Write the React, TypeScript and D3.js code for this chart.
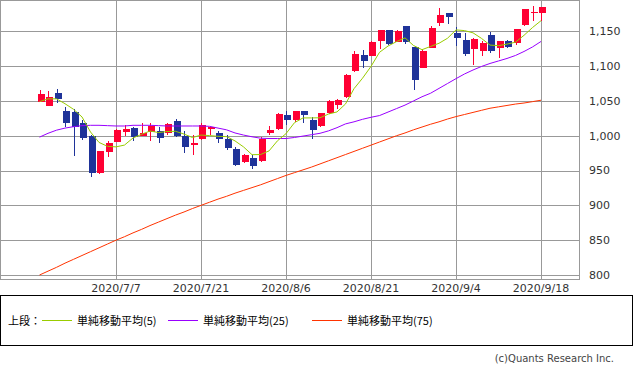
import React from "react";
import * as d3 from "d3";

const dates = [
  "2020/6/24","2020/6/25","2020/6/26","2020/6/29","2020/6/30",
  "2020/7/1","2020/7/2","2020/7/3","2020/7/6","2020/7/7",
  "2020/7/8","2020/7/9","2020/7/10","2020/7/13","2020/7/14",
  "2020/7/15","2020/7/16","2020/7/17","2020/7/20","2020/7/21",
  "2020/7/22","2020/7/27","2020/7/28","2020/7/29","2020/7/30",
  "2020/7/31","2020/8/3","2020/8/4","2020/8/5","2020/8/6",
  "2020/8/7","2020/8/11","2020/8/12","2020/8/13","2020/8/14",
  "2020/8/17","2020/8/18","2020/8/19","2020/8/20","2020/8/21",
  "2020/8/24","2020/8/25","2020/8/26","2020/8/27","2020/8/28",
  "2020/8/31","2020/9/1","2020/9/2","2020/9/3","2020/9/4",
  "2020/9/7","2020/9/8","2020/9/9","2020/9/10","2020/9/11",
  "2020/9/14","2020/9/15","2020/9/16","2020/9/17","2020/9/18",
];

const opens = [1049,1043,1062,1036,1034,1019,1000,947,977,991,1005,1011,1000,1005,1007,1004,1021,1000,987,995,1010,1004,995,981,963,968,964,1004,1010,1030,1023,1036,1023,1014,1032,1044,1055,1093,1116,1115,1136,1152,1135,1158,1128,1098,1126,1162,1176,1148,1137,1124,1121,1145,1126,1136,1133,1159,1176,1177];
const highs = [1066,1064,1067,1041,1038,1022,1001,978,992,1010,1015,1013,1019,1018,1013,1019,1024,1007,1001,1018,1013,1007,1001,984,974,972,998,1014,1032,1035,1036,1036,1027,1033,1052,1053,1088,1121,1123,1136,1152,1152,1152,1158,1128,1124,1157,1184,1177,1156,1147,1141,1136,1149,1136,1137,1153,1182,1186,1185];
const lows = [1048,1042,1047,1013,971,994,941,945,969,991,999,993,999,993,990,1001,998,975,973,994,1001,990,980,956,961,952,963,1001,1008,1015,1020,1018,996,1013,1031,1038,1054,1091,1098,1114,1125,1130,1134,1132,1065,1097,1126,1158,1160,1129,1114,1102,1115,1119,1112,1126,1130,1158,1165,1165];
const closes = [1060,1056,1053,1018,1012,997,947,978,990,1008,1010,998,1004,1014,997,1017,1000,984,989,1015,1013,995,982,958,972,957,996,1008,1031,1023,1036,1030,1008,1032,1050,1051,1087,1118,1107,1135,1152,1132,1150,1134,1080,1122,1155,1173,1170,1140,1117,1139,1133,1122,1136,1128,1153,1182,1178,1185];

const ma5 = [1049,1053,1053,1046,1038,1027,1005.4,990.4,984.8,984,986.6,996.8,1002,1006.8,1004.6,1006,1006.4,1002.4,997.4,1001,1000.2,999.2,998.8,992.6,984,972.8,973,978.2,992.8,1003,1018.8,1025.6,1025.6,1025.8,1031.2,1034.2,1045.6,1067.6,1082.6,1099.6,1119.8,1128.8,1135.2,1140.6,1129.6,1123.6,1128.2,1132.8,1140,1152,1151,1147.8,1139.8,1130.2,1129.4,1131.6,1134.4,1144.2,1155.4,1165.2];
const ma25 = [998,1003.5,1008,1011,1013,1014.5,1015,1015,1014.5,1014,1014,1015,1015,1015,1014.5,1014,1014,1014,1014,1014,1013.5,1011,1008.5,1004,1001,998.5,996.5,996,996,996,997.5,999.5,1001.5,1003.5,1007,1011.6,1017,1020,1023.6,1026.5,1029,1034,1039,1044,1050,1056,1061,1068,1075,1082,1088.7,1094.4,1099.5,1103.8,1107.4,1111,1115.3,1121,1127.5,1135.4];
const ma75 = [800,805.5,811,817,822.5,828,833.5,839,844.5,850,855,860.5,865.5,871,876,881,886,890.5,895.5,900,904.5,909,913,917.5,921.5,925.5,929.5,934,938.5,943,947,951,955,959.5,964,968.5,973,977.5,982,986.5,991,995.5,1000,1004,1008.5,1012.5,1016.5,1020,1024,1027.5,1030.5,1033.5,1036.5,1039.5,1041.5,1043.5,1045.5,1047,1049,1051];

const yTicks = [800, 850, 900, 950, 1000, 1050, 1100, 1150];
const xTickDates = ["2020/7/7", "2020/7/21", "2020/8/6", "2020/8/21", "2020/9/4", "2020/9/18"];

const legendItems = [
  { label: "単純移動平均(5)", color: "#99CC00" },
  { label: "単純移動平均(25)", color: "#9900FF" },
  { label: "単純移動平均(75)", color: "#FF3300" },
];

const W = 633;
const H = 372;
const plot = { left: 0.5, right: 579.5, top: 0.5, bottom: 279.5 };
const UP = "#FF0033";
const DOWN = "#1F3399";
const GRID = "#999999";
const FONT = "'DejaVu Sans', sans-serif";
const JFONT = "'Noto Sans CJK JP', sans-serif";

export default function App() {
  const x = d3.scalePoint<string>().domain(dates).range([39.5, 541]);
  const y = d3.scaleLinear().domain([800, 1150]).range([275, 31.3]);
  const bw = 6;

  const line = (vals: number[]) =>
    d3
      .line<number>()
      .x((_, i) => x(dates[i]) as number)
      .y((v) => y(v))(vals) as string;

  const legendX = [42, 168, 312];

  return (
    <svg
      width={W}
      height={H}
      style={{ position: "absolute", left: 0, top: 0, background: "#fff" }}
    >
      <rect x={0} y={0} width={W} height={H} fill="#fff" />
      {/* horizontal grid */}
      {yTicks.map((t) => (
        <line
          key={"h" + t}
          x1={plot.left}
          x2={plot.right}
          y1={Math.round(y(t)) + 0.5}
          y2={Math.round(y(t)) + 0.5}
          stroke={GRID}
          strokeWidth={1}
        />
      ))}
      {/* vertical grid */}
      {xTickDates.map((d) => (
        <line
          key={"v" + d}
          x1={Math.round(x(d) as number) + 0.5}
          x2={Math.round(x(d) as number) + 0.5}
          y1={plot.top}
          y2={plot.bottom}
          stroke={GRID}
          strokeWidth={1}
        />
      ))}
      {/* frame */}
      <rect
        x={plot.left}
        y={plot.top}
        width={plot.right - plot.left}
        height={plot.bottom - plot.top}
        fill="none"
        stroke={GRID}
        strokeWidth={1}
      />
      {/* y labels */}
      {yTicks.map((t) => (
        <text
          key={"yl" + t}
          x={589}
          y={y(t)}
          dy="0.35em"
          fontFamily={FONT}
          fontSize={11}
          fill="#333"
        >
          {d3.format(",")(t)}
        </text>
      ))}
      {/* x labels */}
      {xTickDates.map((d) => (
        <text
          key={"xl" + d}
          x={x(d) as number}
          y={288}
          dy="0.35em"
          textAnchor="middle"
          fontFamily={FONT}
          fontSize={11}
          fill="#333"
        >
          {d}
        </text>
      ))}
      {/* candles */}
      <g shapeRendering="crispEdges">
        {dates.map((d, i) => {
          const cx = Math.round(x(d) as number);
          const o = opens[i];
          const c = closes[i];
          const col = c >= o ? UP : DOWN;
          const top = y(Math.max(o, c));
          const bot = y(Math.min(o, c));
          return (
            <g key={"c" + i}>
              <rect
                x={cx}
                y={y(highs[i])}
                width={1}
                height={Math.max(1, y(lows[i]) - y(highs[i]))}
                fill={col}
              />
              <rect
                x={cx - bw / 2 + 0.5}
                y={top}
                width={bw + 1}
                height={Math.max(1, bot - top)}
                fill={col}
              />
            </g>
          );
        })}
      </g>
      {/* moving averages */}
      <path d={line(ma75)} fill="none" stroke="#FF3300" strokeWidth={1} />
      <path d={line(ma25)} fill="none" stroke="#9900FF" strokeWidth={1} />
      <path d={line(ma5)} fill="none" stroke="#99CC00" strokeWidth={1} />

      {/* legend */}
      <rect x={0.5} y={295.5} width={632} height={50} fill="none" stroke="#000" strokeWidth={1} />
      <text x={8} y={321} dy="0.35em" fontFamily={JFONT} fontSize={11} fill="#000">
        上段：
      </text>
      {legendItems.map((it, i) => (
        <g key={"lg" + i}>
          <line
            x1={legendX[i]}
            x2={legendX[i] + 30}
            y1={320.5}
            y2={320.5}
            stroke={it.color}
            strokeWidth={1}
          />
          <text
            x={legendX[i] + 35}
            y={321}
            dy="0.35em"
            fontFamily={JFONT}
            fontSize={11}
            fill="#000"
          >
            {it.label}
          </text>
        </g>
      ))}
      <text
        x={614}
        y={358}
        dy="0.35em"
        textAnchor="end"
        fontFamily={FONT}
        fontSize={10}
        fill="#444"
      >
        (c)Quants Research Inc.
      </text>
    </svg>
  );
}
